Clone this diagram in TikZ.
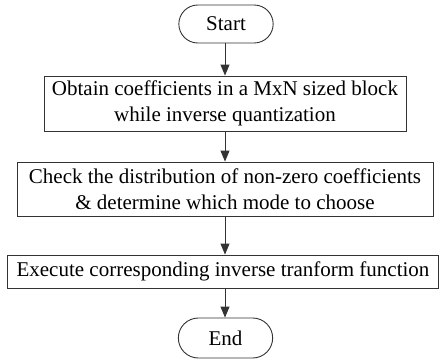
\documentclass[tikz,border=0pt]{standalone}
\usepackage{fontspec}
\setmainfont{Liberation Serif}
\usetikzlibrary{arrows.meta,shapes.misc}
\tikzset{
  terminal/.style = {
    draw=black!80,
    line width=0.9pt,
    rounded rectangle,
    minimum width=101pt,
    minimum height=38pt,
    font=\fontsize{21}{26}\selectfont
  },
  process/.style = {
    draw=black!80,
    line width=0.9pt,
    rectangle,
    align=center,
    inner sep=0pt,
    font=\fontsize{21}{26}\selectfont
  },
  flow/.style = {
    draw=black!80,
    line width=0.9pt,
    -{Triangle[width=9pt,length=11pt]}
  }
}
\begin{document}
\begin{tikzpicture}[x=1pt,y=1pt]
  \useasboundingbox (0,0) rectangle (439,-362);
  % terminals
  \node[terminal] (start) at (226,-24) {Start};
  \node[terminal,minimum height=40pt] (end) at (225.5,-338) {End};
  % processes
  \node[process,minimum width=362pt,minimum height=55pt] (obtain) at (225,-103.5)
    {Obtain coefficients in a MxN sized block\\while inverse quantization};
  \node[process,minimum width=416pt,minimum height=54pt] (check) at (225,-189)
    {Check the distribution of non-zero coefficients\\\& determine which mode to choose};
  \node[process,minimum width=431pt,minimum height=33pt] (exec) at (223,-271.5)
    {Execute corresponding inverse tranform function};
  % connectors
  \draw[flow] (start.south -| obtain) -- (obtain.north);
  \draw[flow] (obtain.south) -- (check.north);
  \draw[flow] (check.south) -- (check.south |- exec.north);
  \draw[flow] (check.south |- exec.south) -- (check.south |- end.north);
\end{tikzpicture}
\end{document}
